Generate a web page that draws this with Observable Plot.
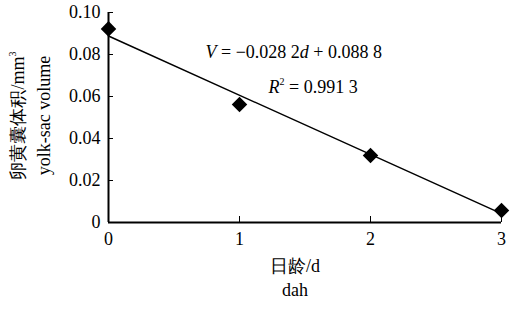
<!DOCTYPE html>
<html><head><meta charset="utf-8">
<script src="https://cdn.jsdelivr.net/npm/d3@7"></script>
<script src="https://cdn.jsdelivr.net/npm/@observablehq/plot@0.6"></script>
<style>body{margin:0;background:#fff} svg, svg text{font-family:"Liberation Serif","Times New Roman",serif !important;}</style>
</head><body><div id="chart"></div>
<script>
const days = [0, 1, 2, 3];
const volumes = [0.0922, 0.0562, 0.0319, 0.0057];
const slope = -0.0282, intercept = 0.0888;
const yTicks = [0, 0.02, 0.04, 0.06, 0.08, 0.10];
const xTicks = [0, 1, 2, 3];
const eqText = "V = \u22120.028 2d + 0.088 8";
const r2Text = "R2 = 0.991 3";

const pts = days.map((d, i) => ({d, v: volumes[i]}));
const fit = [days[0], days[days.length - 1]].map(d => ({d, v: slope * d + intercept}));
const font = "Liberation Serif";

const chart = Plot.plot({
  width: 513, height: 310,
  marginLeft: 108, marginRight: 12, marginTop: 12, marginBottom: 88,
  style: {background: "#fff", color: "#000"},
  x: {domain: [0, 3]},
  y: {domain: [0, 0.1]},
  marks: [
    Plot.axisY({ticks: yTicks, tickSize: -5, tickPadding: 13, tickFormat: d => d === 0 ? "0" : d.toFixed(2), label: null, fontSize: 18, fontFamily: font}),
    Plot.axisX({ticks: xTicks, tickSize: -6, tickFormat: () => "", label: null}),
    Plot.axisX({ticks: xTicks, tickSize: 0, tickPadding: 0, dy: 10, tickFormat: d => String(d), label: null, fontSize: 18, fontFamily: font}),
    Plot.ruleX([0], {strokeWidth: 2}),
    Plot.ruleY([0], {strokeWidth: 2}),
    Plot.line(fit, {x: "d", y: "v", stroke: "#000", strokeWidth: 1.5}),
    Plot.dot(pts, {x: "d", y: "v", symbol: "diamond2", r: 7, fill: "#000", stroke: "none"}),
    Plot.text([eqText], {frameAnchor: "top-left", dx: 97, dy: 33, text: d => d, fontSize: 18, fontFamily: font, textAnchor: "start", className: "eq"}),
    Plot.text([r2Text], {frameAnchor: "top-left", dx: 160, dy: 68, text: d => d, fontSize: 18, fontFamily: font, textAnchor: "start", className: "r2"}),
    Plot.text(["日龄/d"], {frameAnchor: "bottom", dy: 49, dx: -10, text: d => d, fontSize: 18, fontFamily: font}),
    Plot.text(["dah"], {frameAnchor: "bottom", dy: 73, dx: -10, text: d => d, fontSize: 18, fontFamily: font}),
    Plot.text(["卵黄囊体积/mm3"], {frameAnchor: "left", dx: -90, dy: -2, rotate: -90, textAnchor: "middle", text: d => d, fontSize: 18, fontFamily: font, className: "ytitle"}),
    Plot.text(["yolk-sac volume"], {frameAnchor: "left", dx: -64, dy: -2, rotate: -90, textAnchor: "middle", text: d => d, fontSize: 18, fontFamily: font})
  ]
});
document.getElementById("chart").append(chart);

const sel = d3.select(chart);
sel.selectAll("g.eq text").each(function() {
  const t = d3.select(this); t.text("");
  t.append("tspan").attr("font-style", "italic").text("V");
  t.append("tspan").text(" = \u22120.028 2");
  t.append("tspan").attr("font-style", "italic").text("d");
  t.append("tspan").text(" + 0.088 8");
});
sel.selectAll("g.r2 text").each(function() {
  const t = d3.select(this); t.text("");
  t.append("tspan").attr("font-style", "italic").text("R");
  t.append("tspan").attr("font-size", 10).attr("dy", -8).text("2");
  t.append("tspan").attr("dy", 8).text(" = 0.991 3");
});
sel.selectAll("g.ytitle text").each(function() {
  const t = d3.select(this); t.text("");
  t.append("tspan").text("卵黄囊体积/mm");
  t.append("tspan").attr("font-size", 10).attr("dy", -8).text("3");
});
</script></body></html>
